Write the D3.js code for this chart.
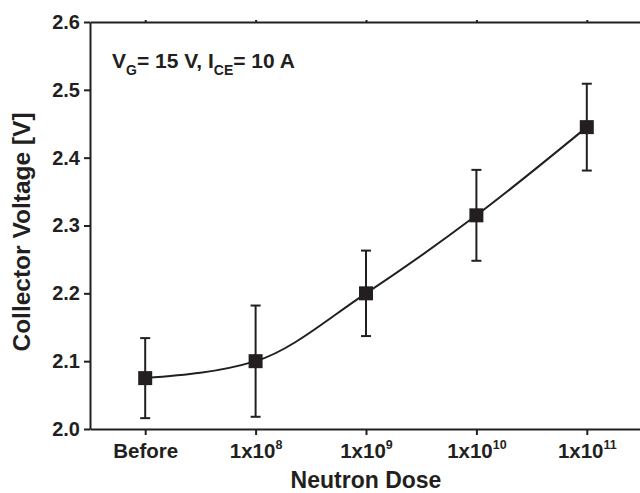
<!DOCTYPE html>
<meta charset="utf-8">
<style>
body { margin: 0; background: #fff; }
text { font-family: "Liberation Sans", Arial, sans-serif; font-weight: bold; fill: #231f20; }
.axis path, .axis line { stroke: #231f20; stroke-width: 2px; }
.curve { fill: none; stroke: #231f20; stroke-width: 2px; }
.err { stroke: #231f20; stroke-width: 2px; }
</style>
<body>
<script src="https://d3js.org/d3.v7.min.js"></script>
<script>

// data
var categories = ["Before", "1e8", "1e9", "1e10", "1e11"];
var tickBase = ["Before", "1x10", "1x10", "1x10", "1x10"];
var tickExp = ["", "8", "9", "10", "11"];
var voltage = [2.075, 2.100, 2.200, 2.315, 2.445];
var errTop = [2.134, 2.182, 2.263, 2.382, 2.509];
var errBottom = [2.016, 2.018, 2.137, 2.248, 2.381];
var yTicks = [2.0, 2.1, 2.2, 2.3, 2.4, 2.5, 2.6];

var width = 640, height = 493;
var plotLeft = 90, plotRight = 642, plotTop = 22, plotBottom = 429;

var svg = d3.select("body").append("svg")
    .attr("width", width)
    .attr("height", height);

var x = d3.scalePoint().domain(categories).range([plotLeft, plotRight]).padding(0.5);
var y = d3.scaleLinear().domain([2.0, 2.6]).range([plotBottom, plotTop]);

// left axis
var yAxis = svg.append("g")
    .attr("class", "axis")
    .attr("transform", "translate(" + plotLeft + ",0)")
    .call(d3.axisLeft(y).tickValues(yTicks).tickFormat(d3.format(".1f"))
      .tickSize(6).tickSizeOuter(0).tickPadding(4));
yAxis.selectAll("text").style("font-size", "20px");

// bottom axis
var xAxis = svg.append("g")
    .attr("class", "axis")
    .attr("transform", "translate(0," + plotBottom + ")")
    .call(d3.axisBottom(x).tickSize(6).tickSizeOuter(0).tickPadding(8));
xAxis.selectAll("text").each(function(d, i) {
  var t = d3.select(this).text("").style("font-size", "20.5px");
  t.append("tspan").text(tickBase[i]);
  if (tickExp[i]) {
    t.append("tspan").attr("dy", "-0.65em").style("font-size", "12.5px").text(tickExp[i]);
  }
});

// top axis (plot frame)
svg.append("g")
    .attr("class", "axis")
    .attr("transform", "translate(0," + plotTop + ")")
    .call(d3.axisTop(x).tickSize(2).tickSizeOuter(0).tickFormat(""));

// smooth line through the points
var line = d3.line()
    .x(function(d, i) { return x(categories[i]); })
    .y(function(d) { return y(d); })
    .curve(d3.curveMonotoneX);

svg.append("path")
    .datum(voltage)
    .attr("class", "curve")
    .attr("d", line);

// error bars
var eb = svg.selectAll(".eb")
    .data(categories)
  .enter().append("g")
    .attr("class", "eb");

eb.append("line").attr("class", "err")
    .attr("x1", function(d) { return x(d); })
    .attr("x2", function(d) { return x(d); })
    .attr("y1", function(d, i) { return y(errTop[i]); })
    .attr("y2", function(d, i) { return y(errBottom[i]); });
eb.append("line").attr("class", "err")
    .attr("x1", function(d) { return x(d) - 5; })
    .attr("x2", function(d) { return x(d) + 5; })
    .attr("y1", function(d, i) { return y(errTop[i]); })
    .attr("y2", function(d, i) { return y(errTop[i]); });
eb.append("line").attr("class", "err")
    .attr("x1", function(d) { return x(d) - 5; })
    .attr("x2", function(d) { return x(d) + 5; })
    .attr("y1", function(d, i) { return y(errBottom[i]); })
    .attr("y2", function(d, i) { return y(errBottom[i]); });

// square markers
svg.selectAll(".pt")
    .data(voltage)
  .enter().append("rect")
    .attr("class", "pt")
    .attr("x", function(d, i) { return x(categories[i]) - 7; })
    .attr("y", function(d) { return y(d) - 7; })
    .attr("width", 14)
    .attr("height", 14)
    .attr("fill", "#231f20");

// annotation
var note = svg.append("text")
    .attr("x", 112)
    .attr("y", 68)
    .style("font-size", "21px");
note.append("tspan").text("V");
note.append("tspan").attr("dy", "7").style("font-size", "14px").text("G");
note.append("tspan").attr("dy", "-7").text("= 15 V, I");
note.append("tspan").attr("dy", "7").style("font-size", "14px").text("CE");
note.append("tspan").attr("dy", "-7").text("= 10 A");

// axis titles
svg.append("text")
    .attr("x", 366)
    .attr("y", 488)
    .attr("text-anchor", "middle")
    .style("font-size", "23px")
    .text("Neutron Dose");

svg.append("text")
    .attr("transform", "translate(30,232) rotate(-90)")
    .attr("text-anchor", "middle")
    .style("font-size", "24.5px")
    .text("Collector Voltage [V]");

</script>
</body>
